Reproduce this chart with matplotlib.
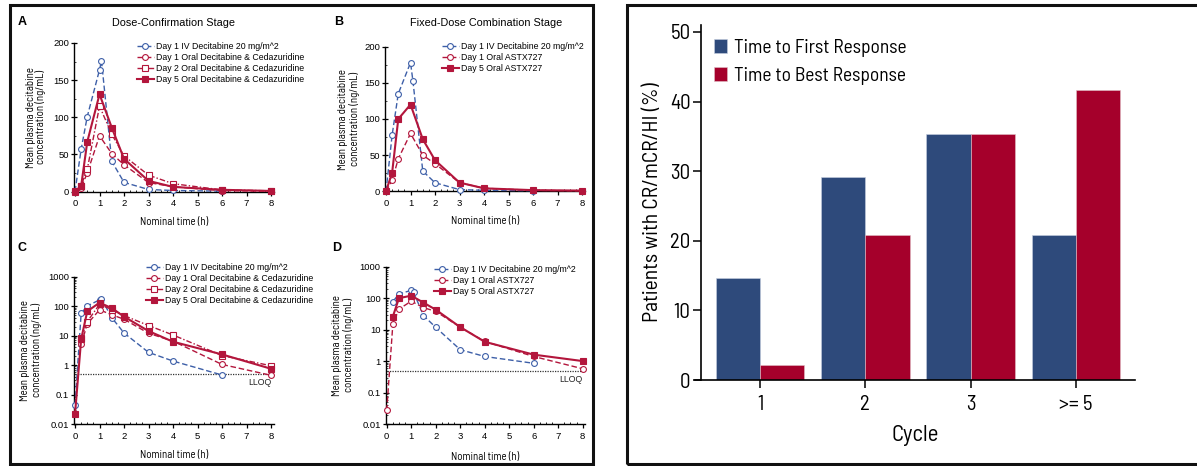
import matplotlib
matplotlib.use('Agg')
import matplotlib.pyplot as plt
from matplotlib.patches import Rectangle
from matplotlib.ticker import FixedLocator, MultipleLocator, LogLocator, NullFormatter

# ---------------- data ----------------
iv_time = [0, 0.25, 0.5, 1.0, 1.08, 1.5, 2, 3, 4, 6]
oral_time = [0, 0.25, 0.5, 1, 1.5, 2, 3, 4, 6, 8]

# Dose-Confirmation Stage (ng/mL)
dc_iv = [0.044, 57, 101, 164, 176, 40.6, 12.3, 2.7, 1.37, 0.46]
dc_d1 = [0, 5, 25, 75, 51, 36, 12, 6.5, 1.05, 0.45]
dc_d2 = [0, 8, 30, 115, 77, 48, 22, 10.5, 2.1, 0.95]
dc_d5 = [0.022, 7.5, 67, 131, 86, 44, 14.3, 6.2, 2.3, 0.75]

# Fixed-Dose Combination Stage (ng/mL)
fd_iv_time = [0, 0.25, 0.5, 1.0, 1.1, 1.5, 2, 3, 4, 6]
fd_iv = [0, 78, 135, 178, 152, 28, 11.8, 2.3, 1.4, 0.85]
fd_d1 = [0.027, 15, 45, 80, 50, 38, 12, 4.2, 1.4, 0.57]
fd_d5 = [0, 26, 100, 120, 72, 43, 12, 4.1, 1.6, 1.0]

lloq = 0.5

dc_labels = ['Day 1 IV Decitabine 20 mg/m^2',
             'Day 1 Oral Decitabine & Cedazuridine',
             'Day 2 Oral Decitabine & Cedazuridine',
             'Day 5 Oral Decitabine & Cedazuridine']
fd_labels = ['Day 1 IV Decitabine 20 mg/m^2',
             'Day 1 Oral ASTX727',
             'Day 5 Oral ASTX727']

cycles = ['1', '2', '3', '>= 5']
first_resp = [14.6, 29.2, 35.4, 20.8]
best_resp = [2.1, 20.8, 35.4, 41.7]
bar_labels = ['Time to First Response', 'Time to Best Response']

# ---------------- style ----------------
PKFONT = ['Liberation Sans', 'DejaVu Sans']
NARROW = ['Barlow Semi Condensed', 'Cabin Condensed', 'Liberation Sans', 'DejaVu Sans']
plt.rcParams['font.family'] = PKFONT

BLUE = '#3d5fa8'
RED = '#b3163c'
BAR_BLUE = '#2e4a7b'
BAR_RED = '#a5002b'

W, H = 1197, 466
fig = plt.figure(figsize=(W / 100, H / 100), dpi=100)


def ax_px(l, r, t, b):
    return fig.add_axes([l / W, 1 - b / H, (r - l) / W, (b - t) / H])


iv_style = dict(color=BLUE, ls=(0, (4, 2)), lw=1.0, marker='o', ms=4.2,
                mfc='white', mec=BLUE, mew=0.8)
d1_style = dict(color=RED, ls=(0, (4, 2)), lw=1.0, marker='o', ms=4.2,
                mfc='white', mec=RED, mew=0.8)
d2_style = dict(color=RED, ls=(0, (4, 1.5, 1, 1.5)), lw=1.0, marker='s', ms=4.0,
                mfc='white', mec=RED, mew=0.8)
d5_style = dict(color=RED, ls='-', lw=1.5, marker='s', ms=4.0,
                mfc=RED, mec=RED, mew=0.8)


def style_pk(ax, log):
    for s in ('top', 'right'):
        ax.spines[s].set_visible(False)
    for s in ('left', 'bottom'):
        ax.spines[s].set_linewidth(1.0)
    ax.set_xlim(-0.05, 8.1)
    ax.xaxis.set_major_locator(FixedLocator(range(0, 9)))
    ax.xaxis.set_minor_locator(MultipleLocator(0.25))
    ax.tick_params(axis='x', which='major', direction='out', length=3, width=0.9,
                   labelsize=6.8, pad=2.5)
    ax.tick_params(axis='x', which='minor', direction='in', length=1.5, width=0.6)
    ax.tick_params(axis='y', which='major', direction='inout', length=4, width=0.9,
                   labelsize=6.8, pad=1.5)
    ax.tick_params(axis='y', which='minor', direction='in', length=1.5, width=0.5)
    if log:
        ax.set_yscale('log', nonpositive='mask')
        ax.set_ylim(0.01, 1000)
        ax.yaxis.set_major_locator(FixedLocator([0.01, 0.1, 1, 10, 100, 1000]))
        ax.set_yticklabels(['0.01', '0.1', '1', '10', '100', '1000'])
        ax.yaxis.set_minor_locator(LogLocator(subs=range(2, 10)))
        ax.yaxis.set_minor_formatter(NullFormatter())
    else:
        ax.set_ylim(0, 200)
        ax.yaxis.set_major_locator(FixedLocator([0, 50, 100, 150, 200]))
        ax.yaxis.set_minor_locator(MultipleLocator(25))
    ax.set_xlabel('Nominal time (h)', fontsize=7.8, family=NARROW)
    ax.xaxis.set_label_coords(0.5, -0.17 if not log else -0.175)
    ax.set_ylabel('Mean plasma decitabine\nconcentration (ng/mL)', fontsize=7.8,
                  family=NARROW, linespacing=1.0, va='center')


def add_legend(ax, anchor_px):
    leg = ax.legend(loc='upper left', bbox_to_anchor=(anchor_px[0] / W, 1 - anchor_px[1] / H),
                    bbox_transform=fig.transFigure, frameon=False, fontsize=6.3,
                    handlelength=1.9, handletextpad=0.3, labelspacing=0.22,
                    borderpad=0, borderaxespad=0, numpoints=1)
    return leg


panels = [
    dict(rect=(73.8, 273.5, 43, 191.5), log=False, kind='dc', letter='A', lpos=(18, 22),
         title='Dose-Confirmation Stage', tpos=(174, 23), leg=(137, 42), ylx=36),
    dict(rect=(384.8, 584.5, 46.7, 191.3), log=False, kind='fd', letter='B', lpos=(334, 22),
         title='Fixed-Dose Combination Stage', tpos=(486, 23), leg=(442, 42), ylx=349),
    dict(rect=(73.8, 273.5, 276.7, 424), log=True, kind='dc', letter='C', lpos=(18, 248),
         title=None, tpos=None, leg=(146, 263), ylx=31),
    dict(rect=(385.5, 585.2, 266.7, 424), log=True, kind='fd', letter='D', lpos=(332, 248),
         title=None, tpos=None, leg=(434, 265), ylx=343),
]

for p in panels:
    l, r, t, b = p['rect']
    ax = ax_px(l, r, t, b)
    style_pk(ax, p['log'])
    if p['kind'] == 'dc':
        ax.plot(iv_time, dc_iv, label=dc_labels[0], clip_on=False, zorder=3, **iv_style)
        ax.plot(oral_time, dc_d1, label=dc_labels[1], clip_on=False, zorder=3, **d1_style)
        ax.plot(oral_time, dc_d2, label=dc_labels[2], clip_on=False, zorder=3, **d2_style)
        ax.plot(oral_time, dc_d5, label=dc_labels[3], clip_on=False, zorder=4, **d5_style)
    else:
        ax.plot(fd_iv_time, fd_iv, label=fd_labels[0], clip_on=False, zorder=3, **iv_style)
        ax.plot(oral_time, fd_d1, label=fd_labels[1], clip_on=False, zorder=3, **d1_style)
        ax.plot(oral_time, fd_d5, label=fd_labels[2], clip_on=False, zorder=4, **d5_style)
    if p['log']:
        ax.hlines(lloq, oral_time[0], oral_time[-1], colors='#333333',
                  linestyles=(0, (1, 1)), lw=0.9, zorder=2)
        ax.text(oral_time[-1], lloq * 0.72, 'LLOQ', ha='right', va='top',
                fontsize=6.3, family=PKFONT, color='#222222')
    add_legend(ax, p['leg'])
    ax.yaxis.set_label_coords((p['ylx'] - l) / (r - l), 0.5)
    fig.text(p['lpos'][0] / W, 1 - p['lpos'][1] / H, p['letter'], fontsize=9,
             fontweight='bold', ha='left', va='center', family=['Liberation Sans', 'DejaVu Sans'])
    if p['title']:
        fig.text(p['tpos'][0] / W, 1 - p['tpos'][1] / H, p['title'], fontsize=7.8,
                 ha='center', va='center', family=PKFONT)

# ---------------- bar chart ----------------
axb = ax_px(694.7, 1135, 25, 380)
x = list(range(1, len(cycles) + 1))
bw = 0.42
axb.bar([xi - bw / 2 for xi in x], first_resp, width=bw, color=BAR_BLUE,
        edgecolor='#c8d0e0', linewidth=0.4, label=bar_labels[0], zorder=2)
axb.bar([xi + bw / 2 for xi in x], best_resp, width=bw, color=BAR_RED,
        edgecolor='#e0c0c8', linewidth=0.4, label=bar_labels[1], zorder=2)
axb.set_xlim(0.38, 4.56)
axb.set_ylim(0, 51)
for s in ('top', 'right'):
    axb.spines[s].set_visible(False)
axb.spines['left'].set_position(('data', 0.44))
axb.spines['left'].set_linewidth(1.2)
axb.spines['bottom'].set_linewidth(1.2)
axb.set_yticks([0, 10, 20, 30, 40, 50])
axb.set_xticks(x)
axb.set_xticklabels(cycles, family=NARROW)
for lab in axb.get_yticklabels():
    lab.set_family(NARROW)
axb.tick_params(axis='y', direction='out', length=6, width=1.1, labelsize=15, pad=1.5)
axb.tick_params(axis='x', direction='out', length=6, width=1.1, labelsize=15, pad=5)
axb.set_ylabel('Patients with CR/mCR/HI (%)', fontsize=15.5, family=NARROW, va='center')
axb.yaxis.set_label_coords((652.5 - 694.7) / (1135 - 694.7), 0.5)
axb.set_xlabel('Cycle', fontsize=16.5, family=NARROW, va='center')
axb.xaxis.set_label_coords(0.5, (380 - 435) / 355)
axb.legend(loc='upper left', bbox_to_anchor=(714 / W, 1 - 39 / H), bbox_transform=fig.transFigure,
           frameon=False, prop={'family': NARROW, 'size': 14}, handlelength=0.65,
           handleheight=0.75, handletextpad=0.4, labelspacing=0.5, borderpad=0,
           borderaxespad=0)

# ---------------- frames ----------------
fig.add_artist(Rectangle((10 / W, 1 - 464 / H), (593 - 10) / W, (464 - 5) / H,
                         transform=fig.transFigure, fill=False, lw=2.2, ec='#111111'))
fig.add_artist(Rectangle((627 / W, 1 - 464 / H), (1200 - 627) / W, (464 - 5) / H,
                         transform=fig.transFigure, fill=False, lw=2.2, ec='#111111'))

fig.savefig('out.png', dpi=100)
